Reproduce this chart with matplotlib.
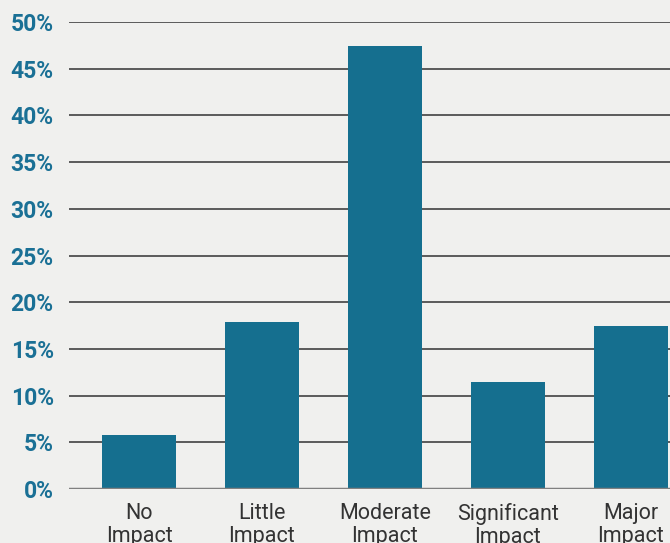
import matplotlib.pyplot as plt

categories = ["No\nImpact", "Little\nImpact", "Moderate\nImpact", "Significant\nImpact", "Major\nImpact"]
values = [5.8, 17.9, 47.4, 11.5, 17.4]
yticks = [0, 5, 10, 15, 20, 25, 30, 35, 40, 45, 50]
ytick_labels = [f"{t}%" for t in yticks]

bg = "#f0f0ee"
bar_color = "#156f8f"

plt.rcParams['font.family'] = ['Roboto', 'DejaVu Sans']

fig = plt.figure(figsize=(6.7, 5.43), dpi=100, facecolor=bg)
ax = fig.add_axes([0.103, 0.0994, 0.897, 0.8601], facecolor=bg)

x = list(range(len(categories)))
ax.bar(x, values, width=0.6, color=bar_color, zorder=3)

ax.set_ylim(0, 50)
ax.set_xlim(-0.57, 4.32)
ax.set_yticks(yticks)
ax.set_yticklabels(ytick_labels, fontsize=16.5, fontweight='bold', color="#1a7095")
ax.set_xticks(x)
ax.set_xticklabels(categories, fontsize=15.5, color="#333333", linespacing=1.1)

for t in yticks[1:]:
    ax.axhline(t, color="#5a5a5a", linewidth=1.4, zorder=1)
ax.axhline(0, color="#808080", linewidth=2.5, zorder=4)

for s in ax.spines.values():
    s.set_visible(False)
ax.tick_params(axis='both', length=0)
ax.tick_params(axis='y', pad=11)
ax.tick_params(axis='x', pad=10)

fig.savefig("out.png", dpi=100, facecolor=bg)
